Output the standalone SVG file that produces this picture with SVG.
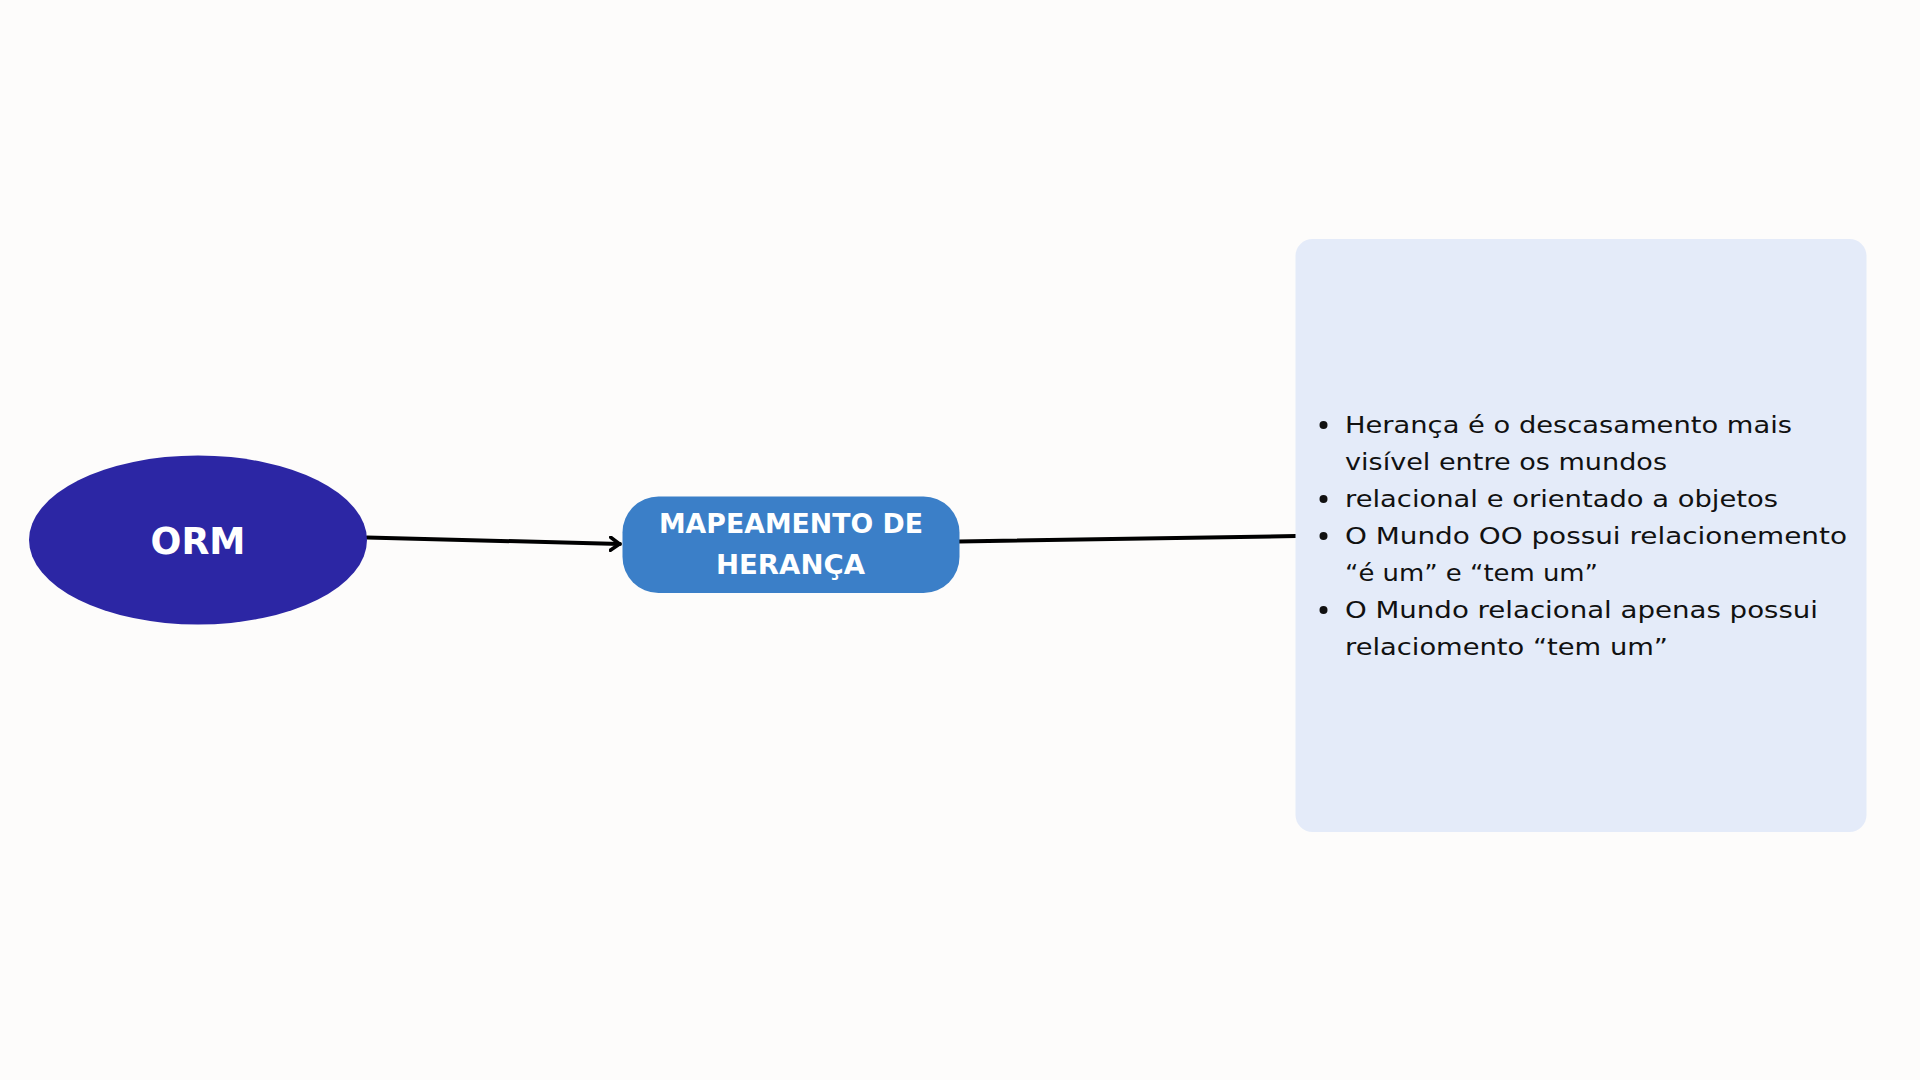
<svg xmlns="http://www.w3.org/2000/svg" width="1920" height="1080" viewBox="0 0 1920 1080">
  <defs>
    <style>
      .label { font-family: "DejaVu Sans", "Liberation Sans", sans-serif; font-weight: bold; fill: #ffffff; text-anchor: middle; }
      .body { font-family: "DejaVu Sans", "Liberation Sans", sans-serif; font-size: 23px; fill: #111111; }
      .conn { stroke: #000000; stroke-width: 4; fill: none; stroke-linecap: round; }
    </style>
    <marker id="chev" viewBox="0 0 12 16" refX="11" refY="8" markerWidth="12" markerHeight="16" markerUnits="userSpaceOnUse" orient="auto">
      <path d="M1.5,1.5 L10.5,8 L1.5,14.5" fill="none" stroke="#000" stroke-width="3.6" stroke-linecap="round" stroke-linejoin="round"/>
    </marker>
  </defs>
  <rect x="0" y="0" width="1920" height="1080" fill="#fdfcfb"/>

  <g id="connectors">
    <line class="conn" x1="367" y1="537.5" x2="620" y2="544" marker-end="url(#chev)"/>
    <line class="conn" x1="959" y1="541.5" x2="1296" y2="536"/>
  </g>

  <g id="node-orm">
    <ellipse cx="198" cy="540" rx="169" ry="84.5" fill="#2c26a4"/>
    <text class="label" x="198" y="554" font-size="38" textLength="95" lengthAdjust="spacingAndGlyphs">ORM</text>
  </g>

  <g id="node-mapeamento">
    <rect x="622.5" y="496.5" width="337" height="96.5" rx="36" ry="36" fill="#3b7fc8"/>
    <text class="label" x="791" y="533" font-size="26.5" textLength="264" lengthAdjust="spacingAndGlyphs">MAPEAMENTO DE</text>
    <text class="label" x="790.5" y="574" font-size="26.5" textLength="149" lengthAdjust="spacingAndGlyphs">HERANÇA</text>
  </g>

  <g id="node-notes">
    <rect x="1295.5" y="239" width="571" height="593" rx="17" ry="17" fill="#e4ebf9"/>
    <circle cx="1323.5" cy="425" r="4" fill="#111111"/>
    <circle cx="1323.5" cy="499" r="4" fill="#111111"/>
    <circle cx="1323.5" cy="536" r="4" fill="#111111"/>
    <circle cx="1323.5" cy="610" r="4" fill="#111111"/>
    <text class="body" x="1345" y="433" textLength="447" lengthAdjust="spacingAndGlyphs">Herança é o descasamento mais</text>
    <text class="body" x="1345" y="470" textLength="322" lengthAdjust="spacingAndGlyphs">visível entre os mundos</text>
    <text class="body" x="1345" y="507" textLength="433" lengthAdjust="spacingAndGlyphs">relacional e orientado a objetos</text>
    <text class="body" x="1345" y="544" textLength="502" lengthAdjust="spacingAndGlyphs">O Mundo OO possui relacionemento</text>
    <text class="body" x="1345" y="581" textLength="253" lengthAdjust="spacingAndGlyphs">“é um” e “tem um”</text>
    <text class="body" x="1345" y="618" textLength="473" lengthAdjust="spacingAndGlyphs">O Mundo relacional apenas possui</text>
    <text class="body" x="1345" y="655" textLength="323" lengthAdjust="spacingAndGlyphs">relaciomento “tem um”</text>
  </g>
</svg>
